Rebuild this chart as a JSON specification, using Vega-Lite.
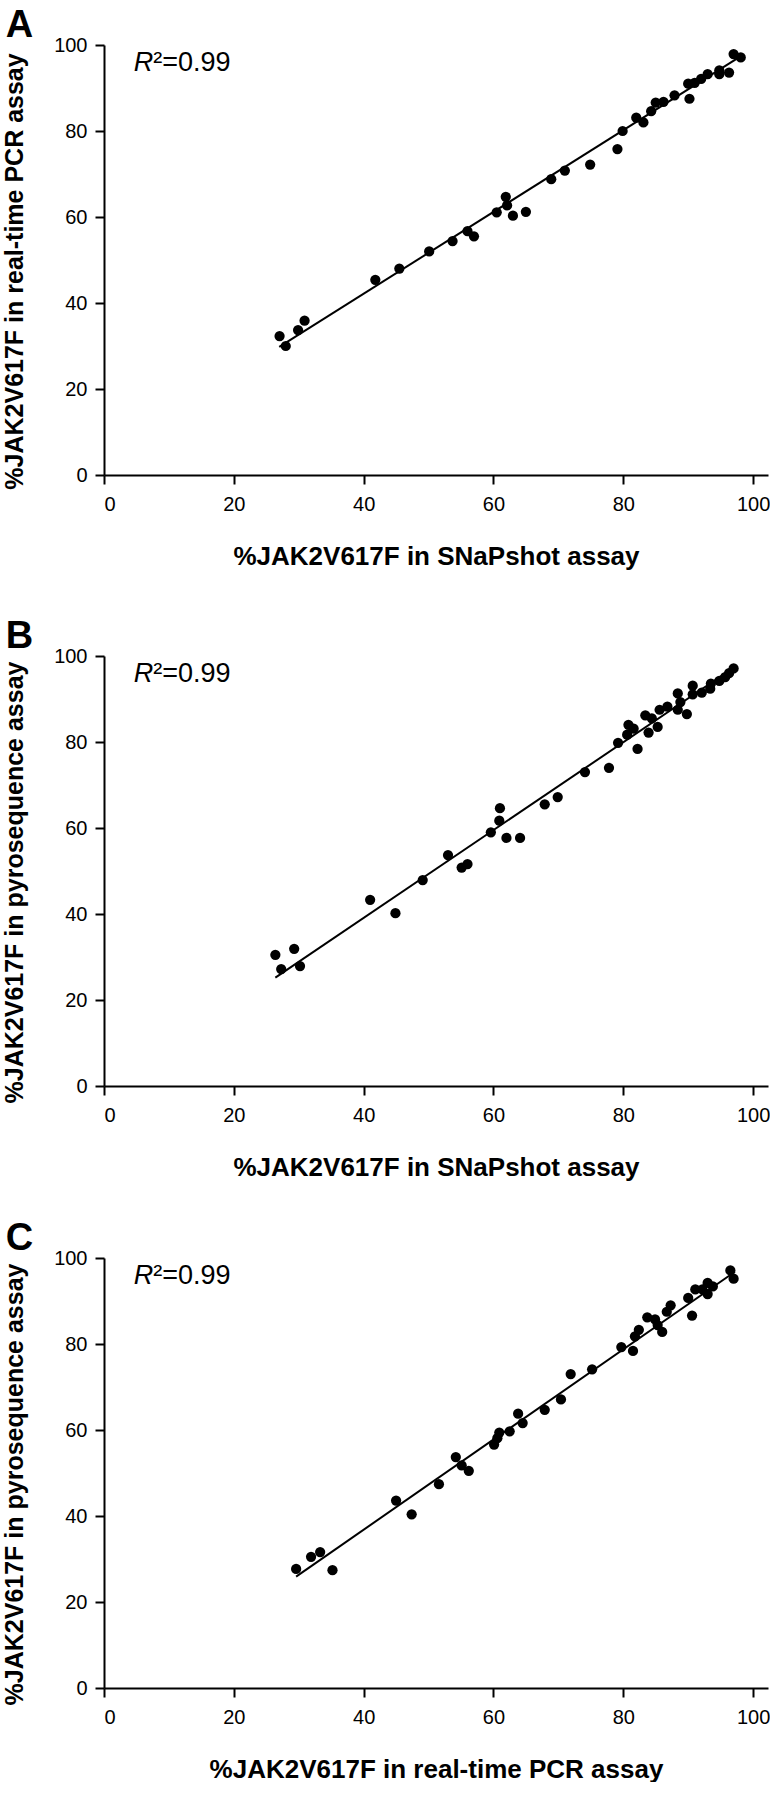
{
  "$schema": "https://vega.github.io/schema/vega-lite/v6.json",
  "padding": {"left": 2, "top": 7, "right": 0, "bottom": 0},
  "background": "white",
  "config": {
    "font": "Liberation Sans, Arial, sans-serif",
    "view": {"stroke": null},
    "axis": {
      "grid": false,
      "domainColor": "black",
      "domainWidth": 2,
      "tickColor": "black",
      "tickWidth": 2,
      "tickSize": 9,
      "labelFontSize": 20,
      "labelColor": "black",
      "labelFont": "Liberation Sans, Arial, sans-serif",
      "titleFont": "Liberation Sans, Arial, sans-serif",
      "titleFontSize": 26,
      "titleFontWeight": "bold",
      "titleColor": "black"
    },
    "axisX": {"labelPadding": 10, "titlePadding": 29},
    "axisY": {"labelPadding": 8, "titlePadding": 26, "titleFontSize": 25},
    "title": {"anchor": "start", "fontSize": 38, "fontWeight": "bold", "color": "black", "dx": 3, "offset": -10, "font": "Liberation Sans, Arial, sans-serif"}
  },
  "datasets": {
    "ptsA": [
      {"x": 27.05, "y": 32.3}, {"x": 28.0, "y": 30.0}, {"x": 29.9, "y": 33.7}, {"x": 30.9, "y": 35.9},
      {"x": 41.8, "y": 45.4}, {"x": 45.5, "y": 48.0}, {"x": 50.1, "y": 52.0}, {"x": 53.7, "y": 54.4},
      {"x": 56.0, "y": 56.7}, {"x": 57.0, "y": 55.5}, {"x": 60.5, "y": 61.1}, {"x": 61.9, "y": 64.7},
      {"x": 62.1, "y": 62.7}, {"x": 63.0, "y": 60.3}, {"x": 65.0, "y": 61.2}, {"x": 68.9, "y": 68.8},
      {"x": 71.0, "y": 70.8}, {"x": 74.9, "y": 72.2}, {"x": 79.1, "y": 75.8}, {"x": 79.9, "y": 80.0},
      {"x": 82.0, "y": 83.1}, {"x": 83.1, "y": 82.0}, {"x": 84.3, "y": 84.6}, {"x": 85.0, "y": 86.6},
      {"x": 86.2, "y": 86.8}, {"x": 87.9, "y": 88.3}, {"x": 90.0, "y": 91.0}, {"x": 90.2, "y": 87.5},
      {"x": 91.0, "y": 91.2}, {"x": 92.0, "y": 92.1}, {"x": 93.0, "y": 93.2}, {"x": 94.8, "y": 94.1},
      {"x": 94.8, "y": 93.2}, {"x": 96.3, "y": 93.6}, {"x": 97.0, "y": 97.9}, {"x": 98.1, "y": 97.1}
    ],
    "lineA": [{"x": 27.0, "y": 29.8}, {"x": 98.0, "y": 97.3}],
    "ptsB": [
      {"x": 26.4, "y": 30.5}, {"x": 27.3, "y": 27.2}, {"x": 29.3, "y": 31.9}, {"x": 30.2, "y": 27.9},
      {"x": 41.0, "y": 43.3}, {"x": 44.9, "y": 40.2}, {"x": 49.1, "y": 47.9}, {"x": 53.0, "y": 53.7},
      {"x": 55.1, "y": 50.8}, {"x": 56.0, "y": 51.6}, {"x": 59.6, "y": 59.0}, {"x": 61.0, "y": 64.6},
      {"x": 60.9, "y": 61.7}, {"x": 62.0, "y": 57.7}, {"x": 64.1, "y": 57.7}, {"x": 67.9, "y": 65.5},
      {"x": 69.9, "y": 67.2}, {"x": 74.1, "y": 73.0}, {"x": 77.8, "y": 74.0}, {"x": 79.2, "y": 79.8},
      {"x": 80.6, "y": 81.7}, {"x": 80.8, "y": 84.0}, {"x": 81.6, "y": 83.1}, {"x": 82.2, "y": 78.4},
      {"x": 83.4, "y": 86.2}, {"x": 83.9, "y": 82.2}, {"x": 84.4, "y": 85.5}, {"x": 85.3, "y": 83.5},
      {"x": 85.6, "y": 87.5}, {"x": 86.8, "y": 88.2}, {"x": 88.4, "y": 91.3}, {"x": 88.4, "y": 87.5},
      {"x": 88.8, "y": 89.3}, {"x": 89.8, "y": 86.5}, {"x": 90.7, "y": 93.1}, {"x": 90.7, "y": 91.1},
      {"x": 92.1, "y": 91.5}, {"x": 93.5, "y": 93.6}, {"x": 93.4, "y": 92.4}, {"x": 94.8, "y": 94.2},
      {"x": 95.7, "y": 95.1}, {"x": 96.3, "y": 96.0}, {"x": 97.0, "y": 97.1}
    ],
    "lineB": [{"x": 26.4, "y": 25.2}, {"x": 97.2, "y": 97.5}],
    "ptsC": [
      {"x": 29.6, "y": 27.7}, {"x": 31.9, "y": 30.5}, {"x": 33.3, "y": 31.6}, {"x": 35.2, "y": 27.4},
      {"x": 45.0, "y": 43.6}, {"x": 47.4, "y": 40.4}, {"x": 51.6, "y": 47.4}, {"x": 54.2, "y": 53.7},
      {"x": 55.1, "y": 51.8}, {"x": 56.2, "y": 50.5}, {"x": 60.1, "y": 56.6}, {"x": 60.6, "y": 58.1},
      {"x": 60.9, "y": 59.4}, {"x": 62.5, "y": 59.7}, {"x": 63.8, "y": 63.8}, {"x": 64.5, "y": 61.6},
      {"x": 67.9, "y": 64.7}, {"x": 70.4, "y": 67.1}, {"x": 71.9, "y": 73.0}, {"x": 75.2, "y": 74.1},
      {"x": 79.7, "y": 79.3}, {"x": 81.5, "y": 78.4}, {"x": 81.8, "y": 81.8}, {"x": 82.4, "y": 83.3},
      {"x": 83.7, "y": 86.2}, {"x": 84.9, "y": 85.7}, {"x": 85.3, "y": 84.4}, {"x": 86.0, "y": 82.8},
      {"x": 86.7, "y": 87.5}, {"x": 87.3, "y": 89.0}, {"x": 90.0, "y": 90.7}, {"x": 90.6, "y": 86.6},
      {"x": 91.1, "y": 92.7}, {"x": 92.2, "y": 92.7}, {"x": 93.0, "y": 94.2}, {"x": 93.0, "y": 91.6},
      {"x": 93.8, "y": 93.4}, {"x": 96.5, "y": 97.1}, {"x": 97.0, "y": 95.2}
    ],
    "lineC": [{"x": 29.6, "y": 25.9}, {"x": 97.2, "y": 96.8}]
  },
  "vconcat": [
    {
      "title": {"text": "A"},
      "width": 664, "height": 430,
      "layer": [
        {
          "data": {"name": "ptsA"},
          "mark": {"type": "circle", "size": 105, "color": "black", "opacity": 1},
          "encoding": {
            "x": {"field": "x", "type": "quantitative", "scale": {"domain": [0, 102.3], "nice": false}, "axis": {"values": [0, 20, 40, 60, 80, 100], "title": "%JAK2V617F in SNaPshot assay"}},
            "y": {"field": "y", "type": "quantitative", "scale": {"domain": [0, 100], "nice": false}, "axis": {"values": [0, 20, 40, 60, 80, 100], "title": "%JAK2V617F in real-time PCR assay", "titleY": 226}}
          }
        },
        {
          "data": {"name": "lineA"},
          "mark": {"type": "line", "color": "black", "strokeWidth": 2},
          "encoding": {"x": {"field": "x", "type": "quantitative"}, "y": {"field": "y", "type": "quantitative"}}
        },
        {
          "data": {"values": [{}]},
          "mark": {"type": "text", "text": "R", "fontStyle": "italic", "fontSize": 27, "align": "right", "baseline": "alphabetic", "color": "black"},
          "encoding": {"x": {"datum": 7.6}, "y": {"datum": 94.05}}
        },
        {
          "data": {"values": [{}]},
          "mark": {"type": "text", "text": "²=0.99", "fontSize": 27, "align": "left", "baseline": "alphabetic", "color": "black"},
          "encoding": {"x": {"datum": 7.6}, "y": {"datum": 94.05}}
        }
      ]
    },
    {
      "spacing": 40,
      "vconcat": [
        {
          "title": {"text": "B"},
          "width": 664, "height": 430,
          "layer": [
            {
              "data": {"name": "ptsB"},
              "mark": {"type": "circle", "size": 105, "color": "black", "opacity": 1},
              "encoding": {
                "x": {"field": "x", "type": "quantitative", "scale": {"domain": [0, 102.3], "nice": false}, "axis": {"values": [0, 20, 40, 60, 80, 100], "title": "%JAK2V617F in SNaPshot assay"}},
                "y": {"field": "y", "type": "quantitative", "scale": {"domain": [0, 100], "nice": false}, "axis": {"values": [0, 20, 40, 60, 80, 100], "title": "%JAK2V617F in pyrosequence assay", "titleY": 226}}
              }
            },
            {
              "data": {"name": "lineB"},
              "mark": {"type": "line", "color": "black", "strokeWidth": 2},
              "encoding": {"x": {"field": "x", "type": "quantitative"}, "y": {"field": "y", "type": "quantitative"}}
            },
            {
              "data": {"values": [{}]},
              "mark": {"type": "text", "text": "R", "fontStyle": "italic", "fontSize": 27, "align": "right", "baseline": "alphabetic", "color": "black"},
              "encoding": {"x": {"datum": 7.6}, "y": {"datum": 94.05}}
            },
            {
              "data": {"values": [{}]},
              "mark": {"type": "text", "text": "²=0.99", "fontSize": 27, "align": "left", "baseline": "alphabetic", "color": "black"},
              "encoding": {"x": {"datum": 7.6}, "y": {"datum": 94.05}}
            }
          ]
        },
        {
          "title": {"text": "C"},
          "width": 664, "height": 430,
          "layer": [
            {
              "data": {"name": "ptsC"},
              "mark": {"type": "circle", "size": 105, "color": "black", "opacity": 1},
              "encoding": {
                "x": {"field": "x", "type": "quantitative", "scale": {"domain": [0, 102.3], "nice": false}, "axis": {"values": [0, 20, 40, 60, 80, 100], "title": "%JAK2V617F in real-time PCR assay"}},
                "y": {"field": "y", "type": "quantitative", "scale": {"domain": [0, 100], "nice": false}, "axis": {"values": [0, 20, 40, 60, 80, 100], "title": "%JAK2V617F in pyrosequence assay", "titleY": 226}}
              }
            },
            {
              "data": {"name": "lineC"},
              "mark": {"type": "line", "color": "black", "strokeWidth": 2},
              "encoding": {"x": {"field": "x", "type": "quantitative"}, "y": {"field": "y", "type": "quantitative"}}
            },
            {
              "data": {"values": [{}]},
              "mark": {"type": "text", "text": "R", "fontStyle": "italic", "fontSize": 27, "align": "right", "baseline": "alphabetic", "color": "black"},
              "encoding": {"x": {"datum": 7.6}, "y": {"datum": 94.05}}
            },
            {
              "data": {"values": [{}]},
              "mark": {"type": "text", "text": "²=0.99", "fontSize": 27, "align": "left", "baseline": "alphabetic", "color": "black"},
              "encoding": {"x": {"datum": 7.6}, "y": {"datum": 94.05}}
            }
          ]
        }
      ]
    }
  ],
  "spacing": 49
}
